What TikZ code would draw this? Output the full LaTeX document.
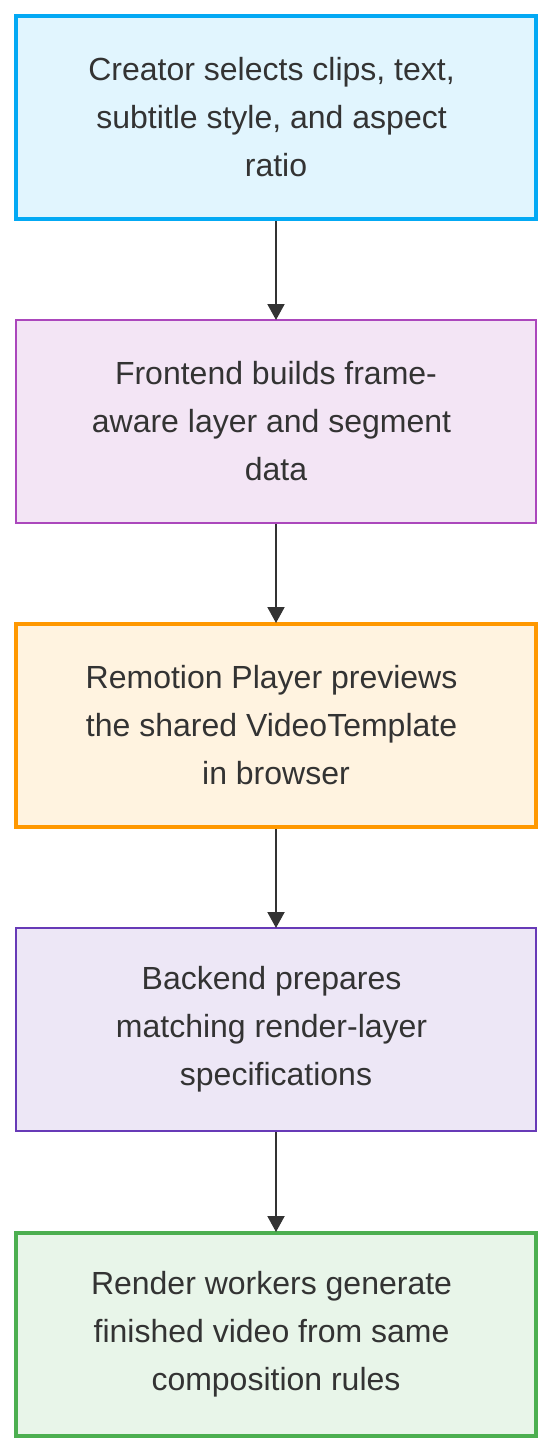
\documentclass[tikz,border=0pt]{standalone}
\usepackage{fontspec}
\setmainfont{Liberation Sans}
\usetikzlibrary{arrows.meta}
\definecolor{txt}{HTML}{333333}
\definecolor{s1}{HTML}{03A9F4}\definecolor{f1}{HTML}{E1F5FE}
\definecolor{s2}{HTML}{AB47BC}\definecolor{f2}{HTML}{F3E5F5}
\definecolor{s3}{HTML}{FF9800}\definecolor{f3}{HTML}{FFF3E0}
\definecolor{s4}{HTML}{673AB7}\definecolor{f4}{HTML}{EDE7F6}
\definecolor{s5}{HTML}{4CAF50}\definecolor{f5}{HTML}{E8F5E9}
\newcommand{\trailsp}{\rule{0.278em}{0pt}}
\tikzset{
  box/.style={draw, rectangle, minimum width=520pt, minimum height=203pt, align=center,
    text=txt, font=\fontsize{32pt}{48pt}\selectfont, inner sep=0pt},
  thickb/.style={line width=4pt},
  thinb/.style={line width=2pt},
  arr/.style={draw=txt, line width=2pt, -{Triangle[length=16pt,width=17pt]}, shorten >=-1pt}
}
\begin{document}
\begin{tikzpicture}[x=1pt,y=1pt]
\useasboundingbox (0,0) rectangle (552,-1452);
\node[box, thickb, draw=s1, fill=f1] (n1) at (276,-117.5) {Creator selects clips, text,\trailsp\\subtitle style, and aspect\trailsp\\ratio};
\node[box, thinb, draw=s2, fill=f2] (n2) at (276,-421.5) {Frontend builds frame-\\aware layer and segment\trailsp\\data};
\node[box, thickb, draw=s3, fill=f3] (n3) at (276,-725.5) {Remotion Player previews\trailsp\\the shared VideoTemplate\trailsp\\in browser};
\node[box, thinb, draw=s4, fill=f4] (n4) at (276,-1029.5) {Backend prepares\trailsp\\matching render-layer\trailsp\\specifications};
\node[box, thickb, draw=s5, fill=f5] (n5) at (276,-1334.5) {Render workers generate\trailsp\\finished video from same\trailsp\\composition rules};
\draw[arr] (n1) -- (n2);
\draw[arr] (n2) -- (n3);
\draw[arr] (n3) -- (n4);
\draw[arr] (n4) -- (n5);
\end{tikzpicture}
\end{document}
